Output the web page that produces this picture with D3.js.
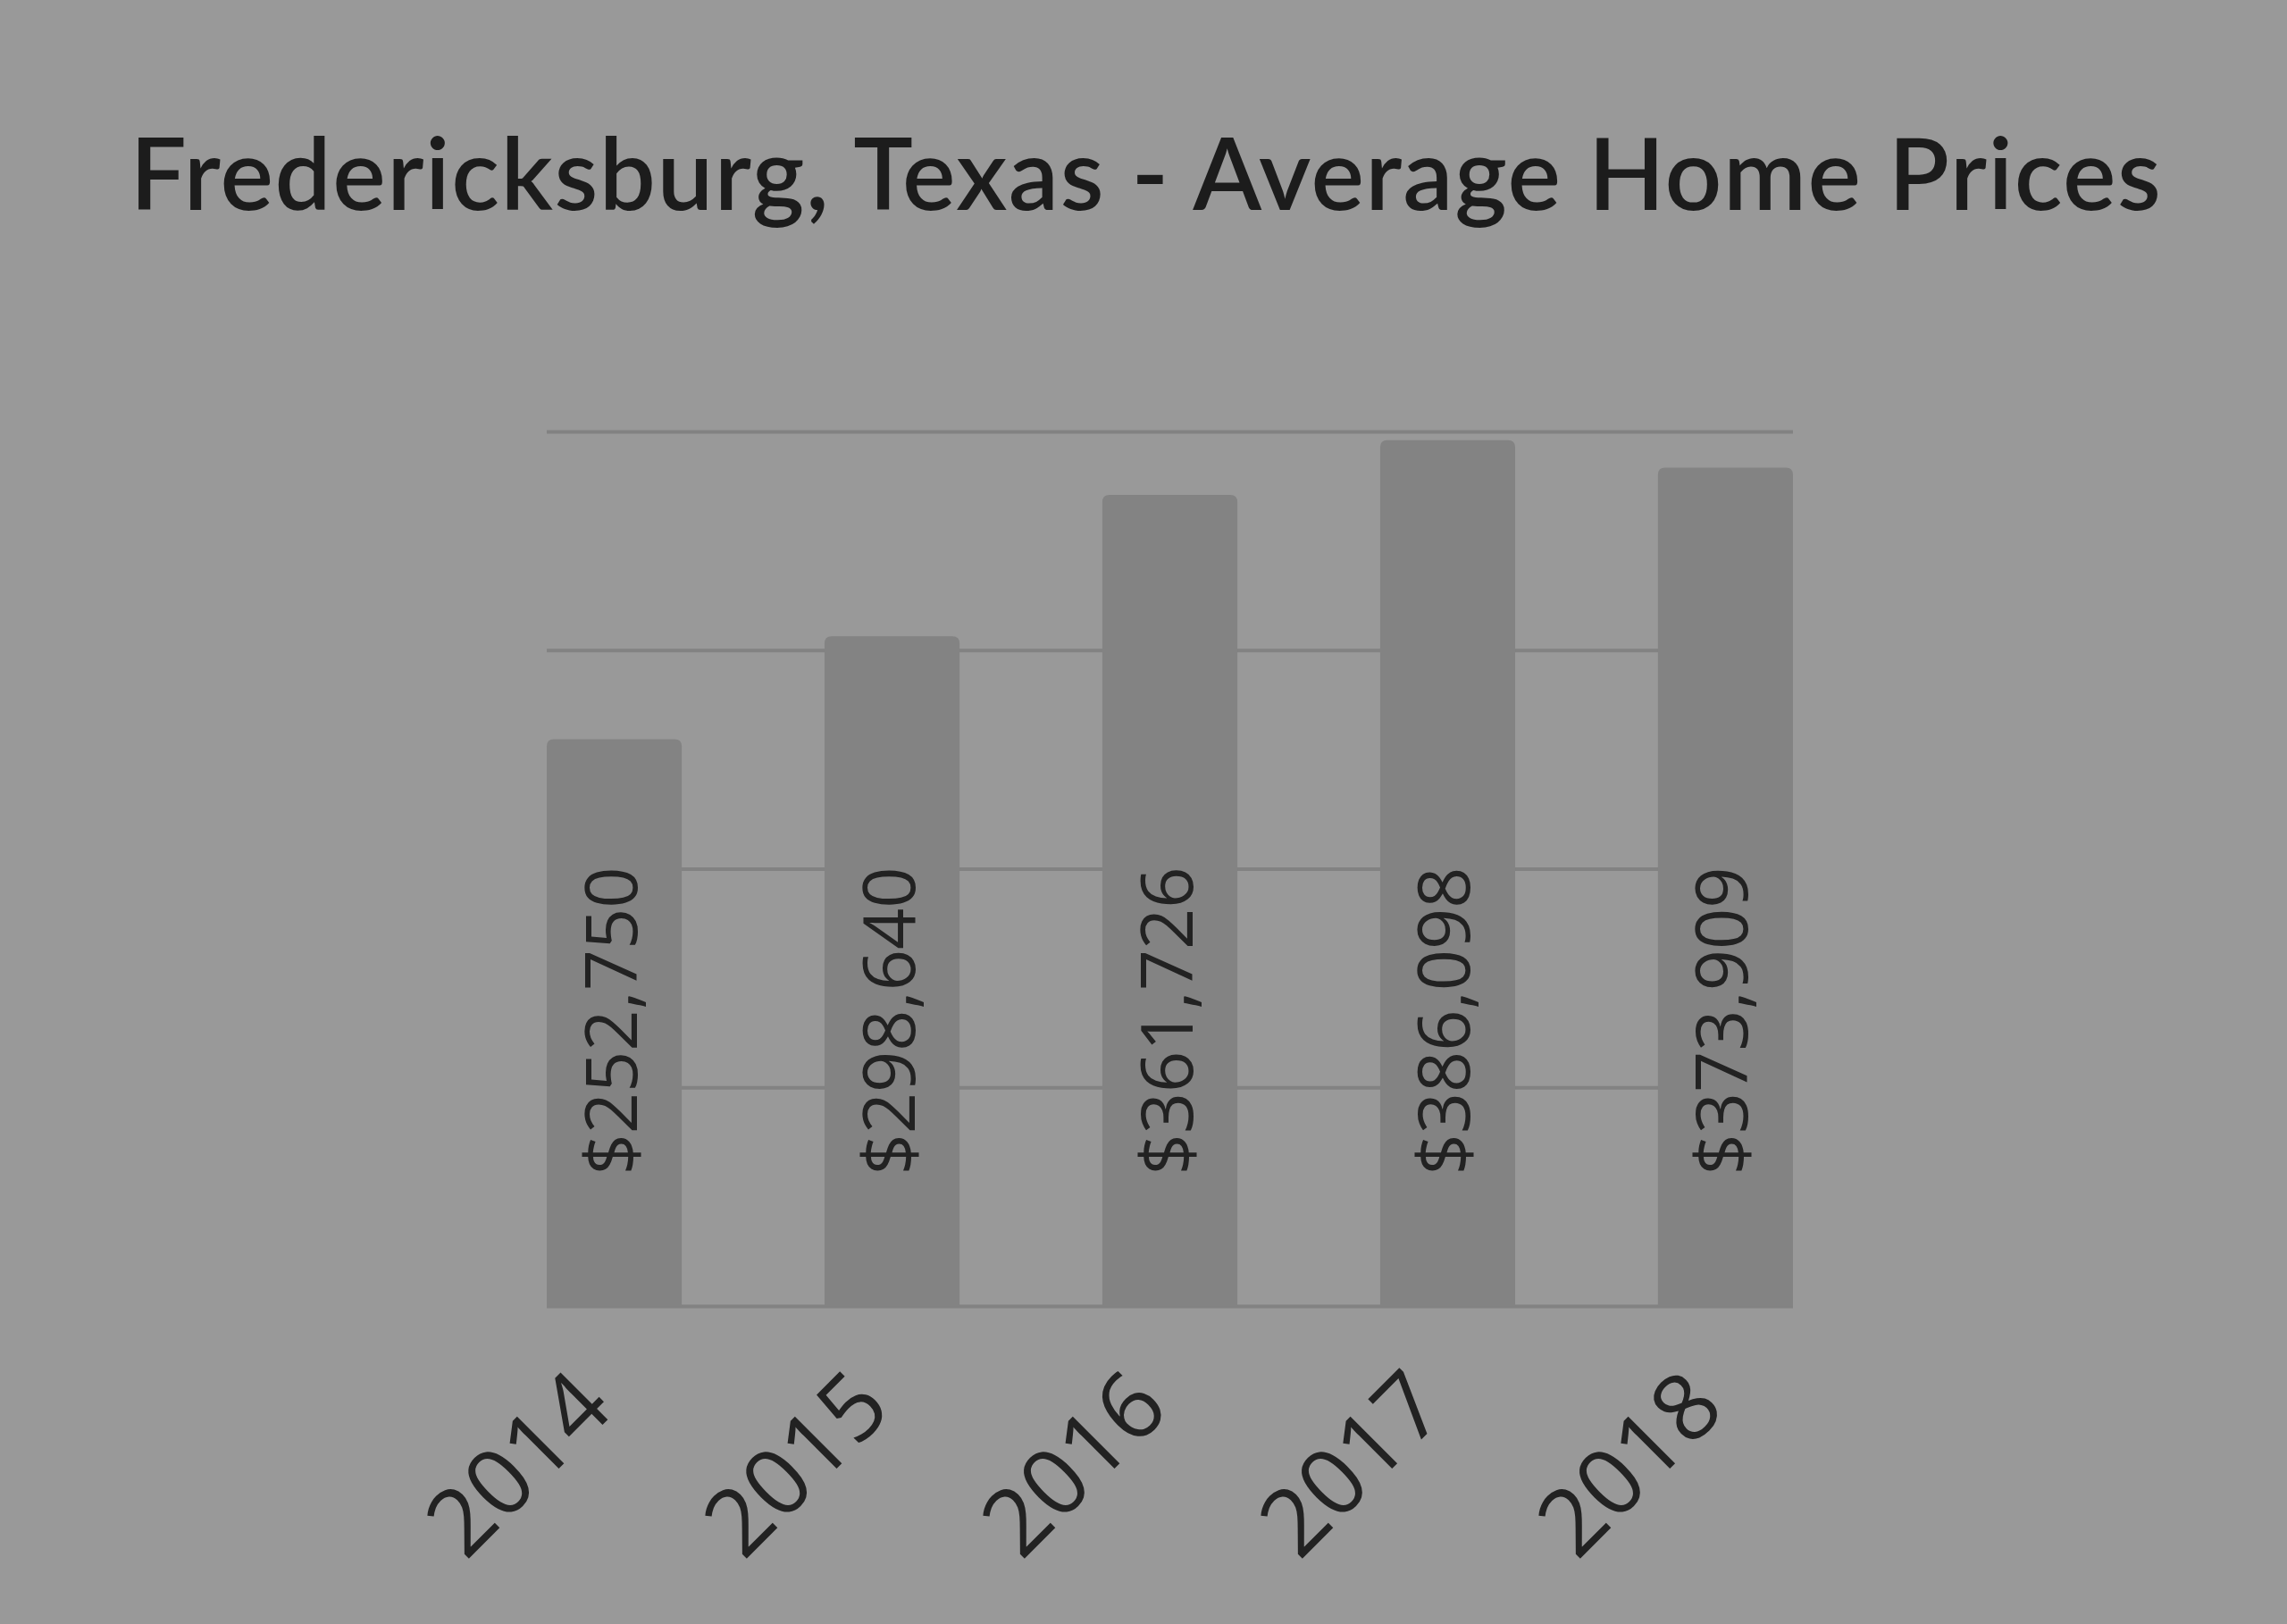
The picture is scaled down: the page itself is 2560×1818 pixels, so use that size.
<!DOCTYPE html>
<html>
<head>
<meta charset="utf-8">
<script src="https://cdn.jsdelivr.net/npm/d3@7"></script>
<style>
  html, body { margin: 0; padding: 0; background: #999999; }
  svg { display: block; }
</style>
</head>
<body>
<div id="chart"></div>
<script>
const years = ['2014', '2015', '2016', '2017', '2018'];
const prices = [252750, 298640, 361726, 386098, 373909];
const gridTicks = [0, 97500, 195000, 292500, 390000];
const title = 'Fredericksburg, Texas - Average Home Prices';

const width = 2560;
const height = 1818;
const margin = { top: 483, right: 553, bottom: 356, left: 612 };
const plotW = width - margin.left - margin.right;
const plotH = height - margin.top - margin.bottom;

const svg = d3.select('#chart')
  .append('svg')
  .attr('width', width)
  .attr('height', height);

svg.append('rect')
  .attr('width', width)
  .attr('height', height)
  .attr('fill', '#999999');

svg.append('text')
  .attr('x', 1283)
  .attr('y', 235)
  .attr('text-anchor', 'middle')
  .attr('font-family', 'Lato, "Noto Sans", sans-serif')
  .attr('font-size', 112)
  .attr('font-weight', 600)
  .attr('letter-spacing', 1.5)
  .attr('fill', '#1c1c1c')
  .text(title);

const x = d3.scaleBand()
  .domain(years)
  .range([0, plotW])
  .paddingInner(0.514)
  .paddingOuter(0);

const y = d3.scaleLinear()
  .domain([0, 390000])
  .range([plotH, 0]);

const g = svg.append('g')
  .attr('transform', `translate(${margin.left}, ${margin.top})`);

// gridlines
g.append('g')
  .attr('class', 'grid')
  .call(d3.axisLeft(y).tickValues(gridTicks).tickSize(-plotW).tickFormat(''))
  .call(sel => sel.select('.domain').remove())
  .call(sel => sel.selectAll('.tick line')
    .attr('stroke', '#828282')
    .attr('stroke-width', 4));

// bars with rounded tops
const r = 8;
g.selectAll('.bar')
  .data(prices)
  .join('path')
  .attr('class', 'bar')
  .attr('fill', '#838383')
  .attr('d', (d, i) => {
    const x0 = x(years[i]);
    const x1 = x0 + x.bandwidth();
    const y0 = y(d);
    const y1 = y(0);
    return `M${x0},${y1}V${y0 + r}Q${x0},${y0} ${x0 + r},${y0}H${x1 - r}Q${x1},${y0} ${x1},${y0 + r}V${y1}Z`;
  });

// value labels, rotated
const fmt = d3.format('$,');
g.selectAll('.value')
  .data(prices)
  .join('text')
  .attr('class', 'value')
  .attr('text-anchor', 'middle')
  .attr('font-family', '"Open Sans", sans-serif')
  .attr('font-size', 81)
  .attr('fill', '#222222')
  .attr('transform', (d, i) => `translate(${x(years[i]) + x.bandwidth() / 2 + 25}, ${plotH - 319}) rotate(-90)`)
  .text(d => fmt(d));

// year labels
g.selectAll('.year')
  .data(years)
  .join('text')
  .attr('class', 'year')
  .attr('text-anchor', 'end')
  .attr('font-family', '"Open Sans", sans-serif')
  .attr('font-size', 104)
  .attr('fill', '#222222')
  .attr('transform', d => `translate(${x(d) + x.bandwidth() / 2 + 2}, ${plotH + 118}) rotate(-45)`)
  .text(d => d);
</script>
</body>
</html>
